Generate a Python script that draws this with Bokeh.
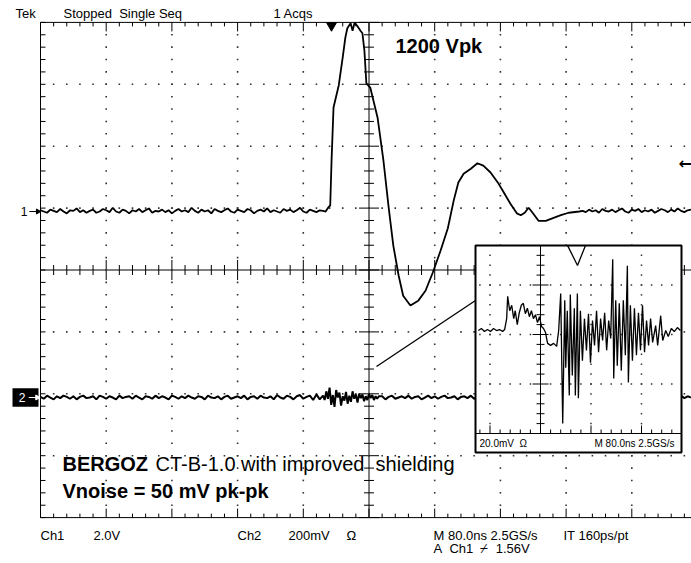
import numpy as np
from bokeh.plotting import figure
from bokeh.models import Range1d
from bokeh.core.properties import value
from bokeh.embed import file_html
from bokeh.resources import INLINE

# ---------------- data (screen divisions) ----------------
ch1_offset = 0.945     # ch1 ground marker (div above centre)
ch2_offset = -2.06     # ch2 ground marker
sample_step = 0.05

ch1_pre_noise = [0.02, 0.00, -0.02, 0.03, 0.01, -0.01, 0.04, 0.00, -0.03, 0.02,
                 0.01, 0.05, -0.01, 0.02, -0.02, 0.01, 0.03, -0.02, 0.00, 0.04,
                 0.02, -0.01, 0.06, 0.00, -0.02, 0.03, 0.01, -0.03, 0.02, 0.00,
                 0.04, -0.01, 0.02, 0.05, -0.02, 0.01, 0.00, 0.03, -0.01, 0.02,
                 -0.03, 0.01, 0.04, 0.00, 0.02, -0.01, 0.06, 0.01, -0.02, 0.03,
                 0.00, 0.02, -0.03, 0.04, 0.01, -0.01, 0.02, 0.05, 0.00, -0.02,
                 0.03, 0.01, -0.01, 0.04, 0.02, -0.03, 0.01, 0.03, 0.00, 0.05,
                 -0.01, 0.02, 0.00, -0.02, 0.04, 0.01, 0.03, -0.01, 0.02, 0.06,
                 0.00, -0.02, 0.03, 0.01, -0.01, 0.02]
ch1_pulse_t = [4.30, 4.34, 4.37, 4.41, 4.43, 4.46, 4.54, 4.60, 4.64, 4.67, 4.72, 4.75,
               4.78, 4.82, 4.87, 4.90, 4.93, 4.96, 5.02, 5.13, 5.22, 5.30, 5.37, 5.45,
               5.52, 5.63, 5.75, 5.86, 5.97, 6.09, 6.20, 6.29, 6.36, 6.44, 6.55, 6.65,
               6.74, 6.85, 6.96, 7.05, 7.15, 7.25, 7.31, 7.37, 7.43, 7.49, 7.58, 7.69,
               7.79, 7.92, 8.04, 8.20]
ch1_pulse_v = [0.01, 0.00, 0.05, 0.10, 0.82, 1.68, 2.04, 2.49, 2.81, 2.96, 3.04, 2.92,
               3.05, 3.00, 2.92, 2.88, 2.60, 2.07, 2.00, 1.52, 0.82, 0.06, -0.55, -1.03,
               -1.36, -1.52, -1.44, -1.28, -0.99, -0.63, -0.27, 0.18, 0.47, 0.61, 0.69, 0.78,
               0.74, 0.63, 0.47, 0.31, 0.13, -0.03, -0.06, -0.02, 0.06, -0.02, -0.15, -0.15,
               -0.11, -0.06, -0.02, 0.00]
ch1_post_start = 8.25
ch1_post_noise = [0.01, -0.01, 0.03, 0.00, 0.02, -0.02, 0.04, 0.01, 0.00, 0.03,
                  -0.01, 0.02, 0.05, 0.00, -0.02, 0.03, 0.01, 0.04, -0.01, 0.02,
                  0.00, 0.03, -0.02, 0.01, 0.04, 0.02, -0.01, 0.03, 0.00, 0.05,
                  0.01, -0.01, 0.02, 0.03]

ch2_pre_noise = [0.01, -0.02, 0.03, 0.00, -0.03, 0.02, -0.01, 0.03, 0.01, -0.02,
                 0.02, -0.03, 0.01, 0.03, -0.01, 0.00, 0.02, -0.03, 0.03, 0.01,
                 -0.02, 0.02, 0.00, -0.03, 0.03, -0.01, 0.01, 0.02, -0.02, 0.03,
                 0.00, -0.03, 0.02, 0.01, -0.02, 0.03, -0.01, 0.02, 0.00, -0.03,
                 0.03, 0.01, -0.02, 0.02, -0.01, 0.03, 0.00, -0.02, 0.02, 0.01,
                 -0.03, 0.03, 0.00, -0.01, 0.02, -0.03, 0.01, 0.03, -0.02, 0.00,
                 0.02, -0.01, 0.03, -0.03, 0.01, 0.02, -0.02, 0.03, 0.00, -0.01,
                 0.02, -0.03, 0.04, 0.00, -0.02, 0.03, 0.01, -0.03, 0.02, 0.04,
                 -0.02, 0.01, 0.03, -0.04, 0.05, -0.03]
ch2_burst_start = 4.3
ch2_burst_step = 0.025
ch2_burst = [0.03, -0.04, 0.10, -0.02, 0.16, -0.12, 0.04, -0.15, 0.12, 0.00,
             0.08, -0.13, 0.02, -0.05, 0.09, -0.10, 0.03, -0.07, 0.10, -0.02,
             0.05, -0.08, 0.06, -0.01, 0.05, -0.06, 0.02, -0.04, 0.06, -0.01,
             0.04, -0.04, 0.02, -0.02, 0.02]
ch2_post_start = 5.2
ch2_post_noise = [0.02, -0.03, 0.01, 0.03, -0.02, 0.00, 0.02, -0.01, 0.03, -0.02,
                  0.01, 0.02, -0.03, 0.00, 0.03, -0.01, 0.02, -0.02, 0.01, 0.03,
                  -0.01, 0.00, 0.02, -0.03, 0.01, 0.02, -0.01, 0.03, -0.02, 0.00,
                  0.02, -0.01, 0.01, 0.03, -0.02, 0.02, 0.00, -0.03, 0.01, 0.02,
                  -0.01, 0.03, 0.00, -0.02, 0.02, 0.01, -0.01, 0.02, -0.03, 0.03,
                  0.00, -0.02, 0.02, -0.01, 0.03, 0.01, -0.03, 0.02, 0.00, -0.02,
                  0.03, -0.01, 0.01, 0.02, -0.03, 0.02, 0.00, 0.03, -0.02, 0.01,
                  -0.01, 0.03, -0.02, 0.02, 0.00, -0.03, 0.01, 0.02, -0.01, 0.03,
                  0.00, -0.02, 0.02, 0.01, -0.03, 0.03, -0.01, 0.00, 0.02, -0.02,
                  0.01, 0.03, -0.01, 0.02, 0.00]

# inset (zoomed ch2, inset divisions)
inset_t = [-1.23, -1.17, -1.11, -1.05, -0.99, -0.93, -0.87, -0.81, -0.75, -0.71, -0.67, -0.65,
           -0.61, -0.57, -0.53, -0.50, -0.46, -0.42, -0.38, -0.34, -0.30, -0.26, -0.22, -0.18,
           -0.14, -0.10, -0.06, -0.02, 0.02, 0.06, 0.10, 0.14, 0.20, 0.26, 0.32, 0.36,
           0.40, 0.44, 0.48, 0.50, 0.53, 0.57, 0.59, 0.63, 0.67, 0.69, 0.73, 0.75,
           0.79, 0.83, 0.87, 0.91, 0.95, 0.99, 1.03, 1.07, 1.11, 1.15, 1.19, 1.23,
           1.27, 1.31, 1.35, 1.39, 1.43, 1.45, 1.49, 1.52, 1.56, 1.60, 1.64, 1.68,
           1.72, 1.74, 1.78, 1.82, 1.86, 1.90, 1.94, 1.98, 2.02, 2.06, 2.10, 2.14,
           2.18, 2.22, 2.28, 2.32, 2.38, 2.42, 2.48, 2.53, 2.59, 2.65, 2.71, 2.77]
inset_v = [0.08, 0.12, 0.06, 0.10, 0.06, 0.12, 0.08, 0.10, 0.06, 0.10, 0.32, 0.77,
           0.48, 0.59, 0.32, 0.48, 0.20, 0.44, 0.59, 0.63, 0.42, 0.53, 0.36, 0.48,
           0.32, 0.40, 0.24, 0.36, 0.16, 0.12, 0.04, -0.18, -0.22, -0.18, -0.24, 0.08,
           0.83, -1.80, 0.69, -0.67, 0.48, -1.23, 0.81, -0.83, 0.53, -1.23, 0.83, -1.29,
           0.48, -0.53, 0.32, -0.32, 0.42, -0.57, 0.28, -0.22, 0.48, -0.36, 0.32, -0.12,
           0.44, -0.32, 0.28, -0.08, 1.52, -0.89, 0.69, -0.63, 0.63, -0.73, 0.69, -0.42,
           1.39, -0.97, 0.59, -0.53, 0.53, -0.42, 0.44, -0.32, 0.59, -0.36, 0.28, -0.22,
           0.32, -0.16, 0.18, -0.22, 0.38, -0.12, 0.08, -0.04, 0.12, 0.06, 0.14, 0.08]
inset_ch1_t = [0.535, 0.733, 0.891]
inset_ch1_v = [1.80, 1.394, 1.80]

# ---------------- layout constants (pixels) ----------------
PAGE = 0
W, H = 691 - PAGE, 563 - PAGE
GX0, GYC, DX, DY = 40.0, 269.5, 65.7, 61.9      # main graticule
IX0, IYC, IDX, IDY = 540.0, 334.0, 50.5, 49.5   # inset graticule

p = figure(width=W, height=H, output_backend="svg", toolbar_location=None,
           x_axis_location=None, y_axis_location=None, min_border=0,
           x_range=Range1d((PAGE - GX0) / DX, (691 - GX0) / DX),
           y_range=Range1d((GYC - 563) / DY, (GYC - PAGE) / DY))
p.grid.visible = False
p.outline_line_color = None
p.background_fill_color = "white"
p.extra_x_ranges = {"ix": Range1d((PAGE - IX0) / IDX, (691 - IX0) / IDX)}
p.extra_y_ranges = {"iy": Range1d((IYC - 563) / IDY, (IYC - PAGE) / IDY)}

BLACK = "#000000"
FONT = value("Liberation Sans")

# ---------------- main graticule ----------------
x0s, y0s, x1s, y1s = [], [], [], []
def seg(a, b, c, d):
    x0s.append(a); y0s.append(b); x1s.append(c); y1s.append(d)

seg(0, 4, 10, 4); seg(0, -4, 10, -4); seg(0, -4, 0, 4); seg(10, -4, 10, 4)
seg(5, -4, 5, 4); seg(0, 0, 10, 0)
for k in range(51):
    x = k * 0.2
    big = (k % 5 == 0)
    ln = (9 if big else 4) / DY
    seg(x, 4, x, 4 - ln)
    seg(x, -4, x, -4 + ln)
    lc = (10 if big else 5) / DY
    seg(x, -lc, x, lc)
for j in range(41):
    y = -4 + j * 0.2
    big = (j % 5 == 0)
    ln = 5 / DX
    seg(0, y, ln, y)
    seg(10, y, 10 - ln, y)
    lc = (10 if big else 5) / DX
    seg(5 - lc, y, 5 + lc, y)
p.segment(x0s, y0s, x1s, y1s, line_color=BLACK, line_width=1)

dx_, dy_ = [], []
for i in range(1, 10):
    if i == 5:
        continue
    for j in range(-19, 20):
        dx_.append(i); dy_.append(j * 0.2)
for j in range(-3, 4):
    if j == 0:
        continue
    for k in range(1, 50):
        dx_.append(k * 0.2); dy_.append(j)
p.scatter(dx_, dy_, marker="square", size=1.6, fill_color="#333333", line_color=None)

# ---------------- traces ----------------
pre_t = list(np.round(np.arange(len(ch1_pre_noise)) * sample_step, 3))
post_t = list(np.round(ch1_post_start + np.arange(len(ch1_post_noise)) * sample_step, 3))
ch1_t = pre_t + ch1_pulse_t + post_t
ch1_v = [ch1_offset + v for v in ch1_pre_noise + ch1_pulse_v + ch1_post_noise]
p.line(ch1_t, ch1_v, line_color=BLACK, line_width=1.8)

c2_pre_t = list(np.round(np.arange(len(ch2_pre_noise)) * sample_step, 3))
c2_burst_t = list(np.round(ch2_burst_start + np.arange(len(ch2_burst)) * ch2_burst_step, 3))
c2_post_t = list(np.round(ch2_post_start + np.arange(len(ch2_post_noise)) * sample_step, 3))
ch2_t = c2_pre_t + c2_burst_t + c2_post_t
ch2_v = [ch2_offset + v for v in ch2_pre_noise + ch2_burst + ch2_post_noise]
p.line(ch2_t, ch2_v, line_color=BLACK, line_width=2.0)

# connector from ch2 burst to inset
p.segment([(376 - GX0) / DX], [(GYC - 366) / DY], [(475 - GX0) / DX], [(GYC - 300) / DY],
          line_color=BLACK, line_width=1.3)

# ---------------- markers ----------------
p.scatter([(331 - GX0) / DX], [(GYC - 25) / DY], marker="inverted_triangle", size=10,
          fill_color=BLACK, line_color=BLACK)
p.text([-0.30], [ch1_offset], text=["1"], text_font=FONT, text_font_size="12px",
       text_align="left", text_baseline="middle", text_color=BLACK)
p.segment([-0.17], [ch1_offset], [-0.02], [ch1_offset], line_color=BLACK, line_width=1.2)
p.scatter([-0.04], [ch1_offset], marker="triangle", angle=-np.pi / 2, size=5,
          fill_color=BLACK, line_color=BLACK)
p.quad(left=[(12 - GX0) / DX], right=[(38 - GX0) / DX], bottom=[ch2_offset - 0.15],
       top=[ch2_offset + 0.15], fill_color=BLACK, line_color=None)
p.text([-0.33], [ch2_offset], text=["2"], text_font=FONT, text_font_size="12px",
       text_align="left", text_baseline="middle", text_color="white")
p.segment([-0.18], [ch2_offset], [-0.02], [ch2_offset], line_color="white", line_width=1.2)
p.scatter([-0.05], [ch2_offset], marker="triangle", angle=-np.pi / 2, size=5,
          fill_color="white", line_color="white")
p.text([(678 - GX0) / DX], [(GYC - 163) / DY], text=["←"], text_font=value("DejaVu Sans"),
       text_font_size="16px", text_font_style="bold", text_align="left",
       text_baseline="middle", text_color=BLACK)

# ---------------- inset ----------------
IL, IR, IB, IT = (475 - IX0) / IDX, (681 - IX0) / IDX, (IYC - 452) / IDY, (IYC - 245) / IDY
p.quad(left=[IL], right=[IR], bottom=[IB], top=[IT], fill_color="white",
       line_color=BLACK, line_width=2, x_range_name="ix", y_range_name="iy")
ix0, iy0, ix1, iy1 = [], [], [], []
def iseg(a, b, c, d):
    ix0.append(a); iy0.append(b); ix1.append(c); iy1.append(d)
iseg(IL, -2, IR, -2)
iseg(0, -2, 0, IT)
for j in range(-9, 9):
    y = j * 0.2
    ln = (8 if j % 5 == 0 else 4) / IDX
    iseg(-ln, y, ln, y)
for k in range(-6, 14):
    x = k * 0.2
    ln = (8 if k % 5 == 0 else 4) / IDY
    iseg(x, -2, x, -2 + ln)
p.segment(ix0, iy0, ix1, iy1, line_color=BLACK, line_width=1,
          x_range_name="ix", y_range_name="iy")
idx_, idy_ = [], []
for i in (-1, 1, 2):
    for j in range(-9, 9):
        idx_.append(i); idy_.append(j * 0.2)
for j in (-1, 0, 1):
    for k in range(-6, 14):
        if k != 0:
            idx_.append(k * 0.2); idy_.append(j)
p.scatter(idx_, idy_, marker="square", size=1.5, fill_color="#333333", line_color=None,
          x_range_name="ix", y_range_name="iy")
p.line(inset_t, inset_v, line_color=BLACK, line_width=1.3,
       x_range_name="ix", y_range_name="iy")
p.line(inset_ch1_t, inset_ch1_v, line_color=BLACK, line_width=1.3,
       x_range_name="ix", y_range_name="iy")
p.text([(479 - IX0) / IDX], [(IYC - 443) / IDY], text=["20.0mV\u00a0 Ω"], text_font=FONT,
       text_font_size="10px", text_align="left", text_baseline="middle", text_color=BLACK,
       x_range_name="ix", y_range_name="iy")
p.text([(674 - IX0) / IDX], [(IYC - 443) / IDY], text=["M 80.0ns 2.5GS/s"], text_font=FONT,
       text_font_size="10px", text_align="right", text_baseline="middle", text_color=BLACK,
       x_range_name="ix", y_range_name="iy")

# ---------------- texts ----------------
def tx(xpx, ypx, s, size, bold=False, align="left"):
    p.text([(xpx - GX0) / DX], [(GYC - ypx) / DY], text=[s], text_font=FONT,
           text_font_size=size, text_font_style="bold" if bold else "normal",
           text_align=align, text_baseline="middle", text_color=BLACK)

tx(15, 12.5, "Tek", "13px")
tx(63, 12.5, "Stopped\u00a0 Single Seq", "13px")
tx(273, 12.5, "1 Acqs", "13px")
tx(395, 45, "1200 Vpk", "20px", bold=True)
tx(62, 463, "BERGOZ", "20px", bold=True)
tx(155, 463, "CT-B-1.0 with improved\u00a0 shielding", "20px")
tx(62, 490, "Vnoise = 50 mV pk-pk", "20px", bold=True)
tx(40, 535, "Ch1", "13px")
tx(93, 535, "2.0V", "13px")
tx(237, 535, "Ch2", "13px")
tx(288, 535, "200mV", "13px")
tx(346, 535, "Ω", "13px")
tx(433, 535, "M 80.0ns 2.5GS/s", "13px")
tx(563, 535, "IT 160ps/pt", "13px")
tx(433, 548, "A\u00a0 Ch1\u00a0 ⌿\u00a0 1.56V", "13px")

open("out.html", "w").write(file_html(p, INLINE))
